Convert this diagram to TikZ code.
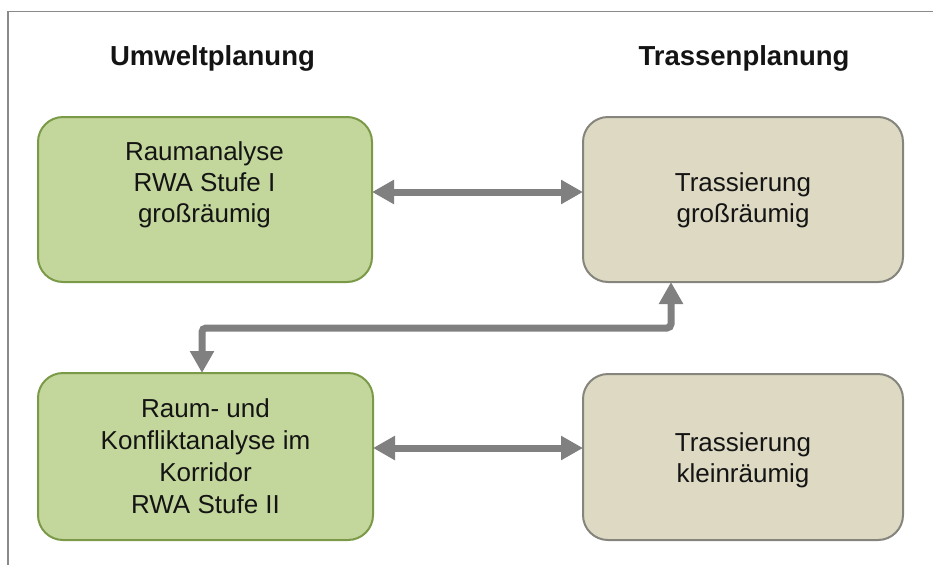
\documentclass[tikz,border=0pt]{standalone}
\usepackage{fontspec}
\setmainfont{Liberation Sans}
\usetikzlibrary{arrows.meta}

\definecolor{greenfill}{HTML}{C3D69B}
\definecolor{greenline}{HTML}{7A9A48}
\definecolor{tanfill}{HTML}{DDD9C3}
\definecolor{tanline}{HTML}{85847D}
\definecolor{arrowgray}{HTML}{808080}
\definecolor{framegray}{HTML}{8A8A8A}
\definecolor{inkblack}{HTML}{141414}

\tikzset{
  x=1pt, y=-1pt,
  panel/.style={rectangle, rounded corners=25pt, line width=2pt, inner sep=0pt,
    outer sep=0pt},
  envbox/.style={panel, fill=greenfill, draw=greenline},
  routebox/.style={panel, fill=tanfill, draw=tanline},
  boxtext/.style={align=center, inner sep=0pt, text=inkblack,
    font=\fontsize{26}{31}\selectfont},
  heading/.style={anchor=base, inner sep=0pt, text=inkblack,
    font=\fontsize{27.5}{33}\selectfont\bfseries},
  link/.style={draw=arrowgray, line width=7pt,
    {Triangle[length=22pt,width=23pt]}-{Triangle[length=22pt,width=23pt]}},
}

\begin{document}
\begin{tikzpicture}
  \useasboundingbox (0,0) rectangle (933,565);

  % outer frame (top and left edges)
  \draw[framegray, line width=1.5pt] (8,565) -- (8,11.5) -- (933,11.5);

  % column headings
  \node[heading] (hUmwelt) at (212.5,65) {Umweltplanung};
  \node[heading] (hTrasse) at (744,65) {Trassenplanung};

  % boxes
  \node[envbox, minimum width=334pt, minimum height=165pt] (tl) at (205,199.5) {};
  \node[routebox, minimum width=320pt, minimum height=165pt] (tr) at (743,199.5) {};
  \node[envbox, minimum width=335pt, minimum height=167pt] (bl) at (205.5,456.5) {};
  \node[routebox, minimum width=320pt, minimum height=166pt] (br) at (743,457) {};

  % box texts
  \node[boxtext] (tlText) at (204.5,184.5) {Raumanalyse\\RWA Stufe I\\großräumig};
  \node[boxtext] (trText) at (743,200.5) {Trassierung\\großräumig};
  \node[boxtext, font=\fontsize{26}{32}\selectfont] (blText) at (205.5,456)
    {Raum-\ und\\Konfliktanalyse im\\Korridor\\RWA Stufe II};
  \node[boxtext] (brText) at (743,460.5) {Trassierung\\kleinräumig};

  % connectors
  \coordinate (rowTop) at (0,192);
  \coordinate (rowBottom) at (0,448);
  \coordinate (elbowRight) at (671,328);
  \coordinate (elbowLeft) at (202,328);

  \draw[link] (tl.east |- rowTop) -- (tr.west |- rowTop);
  \draw[link] (bl.east |- rowBottom) -- (br.west |- rowBottom);
  \draw[link, rounded corners=4pt]
    (bl.north -| elbowLeft) -- (elbowLeft) -- (elbowRight) -- (tr.south -| elbowRight);
\end{tikzpicture}
\end{document}
